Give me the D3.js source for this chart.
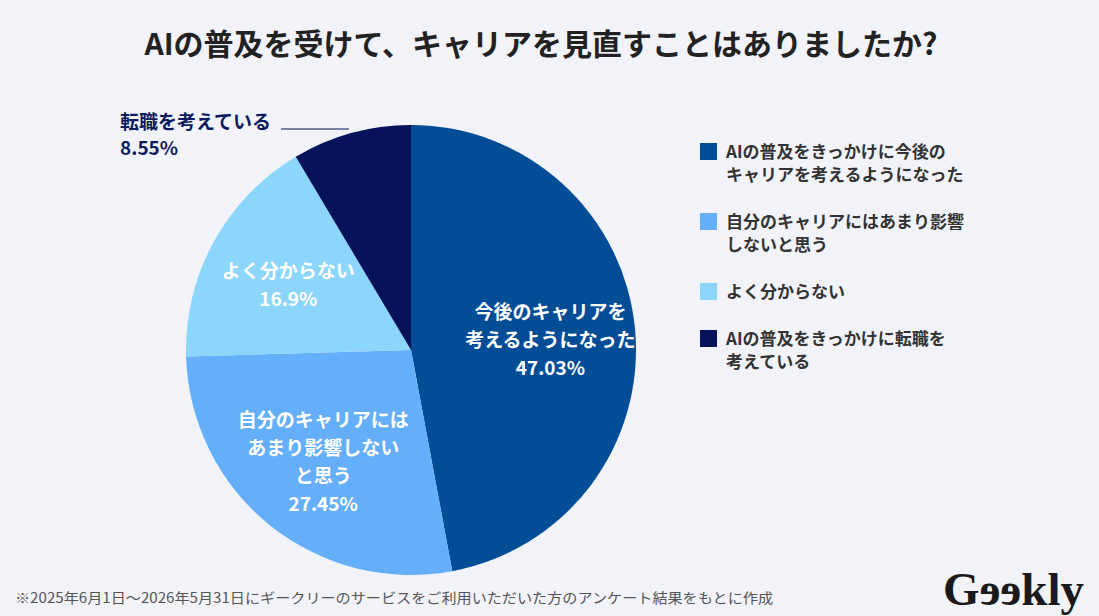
<!DOCTYPE html>
<html>
<head>
<meta charset="utf-8">
<script src="https://cdn.jsdelivr.net/npm/d3@7"></script>
<style>
  body { margin: 0; background: #f2f3f9; }
  svg { display: block; font-family: "Noto Sans CJK JP", "Noto Sans", sans-serif; }
</style>
</head>
<body>
<script>
// survey answers, clockwise from 12 o'clock
var categories = ['AIの普及をきっかけに今後のキャリアを考えるようになった', '自分のキャリアにはあまり影響しないと思う', 'よく分からない', 'AIの普及をきっかけに転職を考えている']
var values = [47.03, 27.45, 16.9, 8.55]
var colors = ['#034c96', '#64aefa', '#8dd6fb', '#061259']
var sliceLabels = [['今後のキャリアを', '考えるようになった'], ['自分のキャリアには', 'あまり影響しない', 'と思う'], ['よく分からない'], ['転職を考えている']]
var legendLabels = [['AIの普及をきっかけに今後の', 'キャリアを考えるようになった'], ['自分のキャリアにはあまり影響', 'しないと思う'], ['よく分からない'], ['AIの普及をきっかけに転職を', '考えている']]
var pctLabels = ['47.03%', '27.45%', '16.9%', '8.55%']

var width = 1099, height = 616
var cx = 411, cy = 350, radius = 225

var svg = d3.select('body').append('svg').attr('width', width).attr('height', height)
svg.append('rect').attr('width', width).attr('height', height).attr('fill', '#f2f3f9')

svg.append('text').text('AIの普及を受けて、キャリアを見直すことはありましたか?')
	.attr('x', 541).attr('y', 55).attr('text-anchor', 'middle')
	.attr('font-size', '30px').attr('font-weight', 'bold').attr('fill', '#222')

var pie = d3.pie().sort(null).value(function(d){return d})
var arcs = pie(values)
var arc = d3.arc().innerRadius(0).outerRadius(radius)
var labelArc = d3.arc().innerRadius(140 * 2).outerRadius(0) // centroid sits at r=140

var g = svg.append('g').attr('transform', 'translate(' + cx + ',' + cy + ')')
g.selectAll('path').data(arcs).enter().append('path')
	.attr('d', arc).attr('fill', function(d, i){return colors[i]})

// inside labels for the three big slices
var lineH = 28
arcs.forEach(function(d, i) {
	if (i == 3) return
	var c = labelArc.centroid(d)
	var lines = sliceLabels[i].concat([pctLabels[i]])
	var top = c[1] + 3 - (lines.length - 1) * lineH / 2
	var t = g.append('text').attr('text-anchor', 'middle').attr('fill', '#fff')
		.attr('font-size', '19px').attr('font-weight', 'bold')
	lines.forEach(function(s, k) {
		t.append('tspan').attr('x', c[0]).attr('y', top + k * lineH).attr('dy', '0.35em').text(s)
	})
})

// outside label for the small slice
var lineY = cy - radius + 4
svg.append('line').attr('x1', 281).attr('x2', cx - 62).attr('y1', lineY).attr('y2', lineY)
	.attr('stroke', '#061259').attr('stroke-width', 1)
var ot = svg.append('text').attr('fill', '#0d1b5e').attr('font-size', '19px').attr('font-weight', 'bold')
ot.append('tspan').attr('x', 120).attr('y', 129).text(sliceLabels[3][0])
ot.append('tspan').attr('x', 120).attr('y', 155).text(pctLabels[3])

// legend
var legendY = [152, 222, 292, 339]
var legend = svg.append('g')
categories.forEach(function(c, i) {
	legend.append('rect').attr('x', 700).attr('y', legendY[i] - 9).attr('width', 17).attr('height', 17)
		.attr('fill', colors[i])
	var t = legend.append('text').attr('fill', '#333').attr('font-size', '17px').attr('font-weight', 'bold')
	legendLabels[i].forEach(function(s, k) {
		t.append('tspan').attr('x', 726).attr('y', legendY[i] + k * 23).attr('dy', '0.35em').text(s)
	})
})

// footnote
svg.append('text').text('※2025年6月1日〜2026年5月31日にギークリーのサービスをご利用いただいた方のアンケート結果をもとに作成')
	.attr('x', 15).attr('y', 603).attr('font-size', '14px').attr('fill', '#555')
	.attr('textLength', 758).attr('lengthAdjust', 'spacingAndGlyphs')

// logo: G, two mirrored e, kly
var logo = svg.append('g').attr('font-family', '"Liberation Serif", serif').attr('font-weight', 'bold')
	.attr('font-size', '47px').attr('fill', '#1a1a1a')
var lx = 943, ly = 605
var gT = logo.append('text').attr('x', lx).attr('y', ly).text('G')
lx += gT.node().getComputedTextLength()
for (var k = 0; k < 2; k++) {
	var e = logo.append('text').text('e').attr('y', ly)
	var w = e.node().getComputedTextLength()
	e.attr('transform', 'translate(' + (lx + w) + ',0) scale(-1,1)')
	lx += w
}
logo.append('text').attr('x', lx).attr('y', ly).text('kly')
</script>
</body>
</html>
